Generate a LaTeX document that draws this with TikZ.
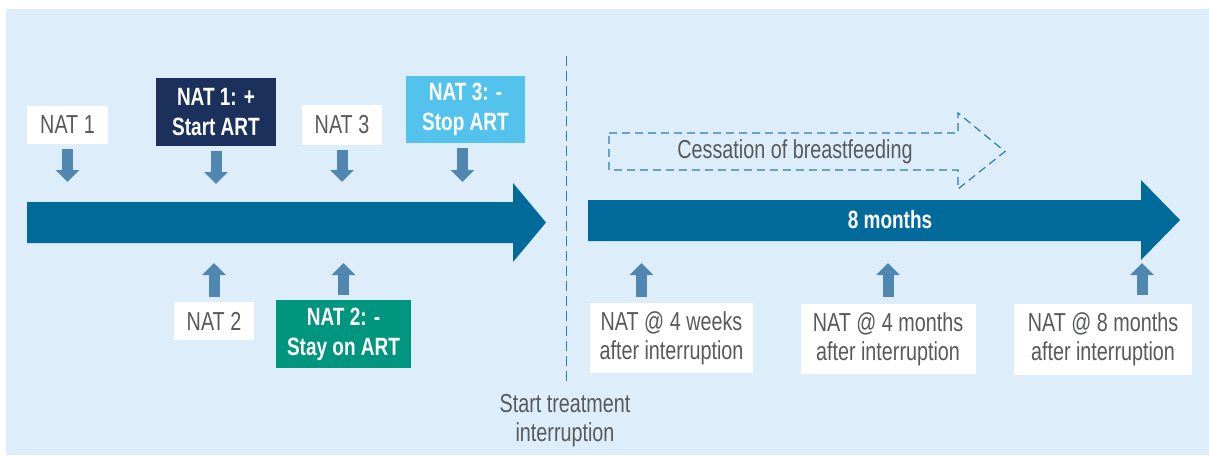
\documentclass[tikz,border=0pt]{standalone}
\usepackage{fontspec}
\setmainfont{Liberation Sans}[FakeStretch=0.76]
\usetikzlibrary{arrows.meta}
\definecolor{bgblue}{HTML}{DDEEFA}
\definecolor{mainblue}{HTML}{006A9A}
\definecolor{smallblue}{HTML}{4F87B1}
\definecolor{navy}{HTML}{1B305B}
\definecolor{skyblue}{HTML}{53C3ED}
\definecolor{teal}{HTML}{00957E}
\definecolor{txtgray}{HTML}{58595B}
\definecolor{dashblue}{HTML}{2B7BB5}
\tikzset{
  whitebox/.style={fill=white, text=txtgray, inner sep=0pt, align=center,
    font=\fontsize{26}{29}\selectfont},
  colbox/.style={fill=#1, text=white, inner sep=0pt, align=center,
    font=\fontsize{25}{30}\selectfont\bfseries},
  smallarr/.style={draw=smallblue, line width=11pt,
    -{Triangle[width=23pt,length=12pt]}},
  plaintext/.style={text=txtgray, align=center, font=\fontsize{26}{29}\selectfont},
}
\begin{document}
\begin{tikzpicture}[x=1pt,y=-1pt]
\useasboundingbox (0,0) rectangle (1209,456);
\fill[bgblue] (6,9) rectangle (1209,455);

% main arrows
\fill[mainblue] (27,202) -- (513,202) -- (513,183) -- (546,222.5) -- (513,262) -- (513,243) -- (27,243) -- cycle;
\fill[mainblue] (588,200) -- (1141,200) -- (1141,180) -- (1180,220) -- (1141,260) -- (1141,241) -- (588,241) -- cycle;
\node[text=white, font=\fontsize{25}{29}\selectfont\bfseries] (eight) at (890,220) {8 months};

% dashed separator
\coordinate (septop) at (566,56);
\coordinate (sepbot) at (566,383);
\draw[dashblue, line width=1pt, dash pattern=on 10pt off 5pt] (septop) -- (sepbot);
\node[plaintext] (sti) at (565,421) {Start treatment\\interruption};

% dashed outline arrow
\draw[dashblue, line width=1.2pt, dash pattern=on 8pt off 5pt]
  (609,133) -- (958,133) -- (958,113) -- (1005,151.5) -- (958,189) -- (958,170) -- (609,170) -- cycle;
\node[plaintext] (cess) at (795,152) {Cessation of breastfeeding};

% top boxes
\node[whitebox, minimum width=81pt, minimum height=38pt] (nat1) at (67.5,125) {NAT 1};
\node[colbox=navy, minimum width=120pt, minimum height=68pt] (nat1p) at (216,112) {NAT 1: +\\Start ART};
\node[whitebox, minimum width=80pt, minimum height=40pt] (nat3) at (342,125) {NAT 3};
\node[colbox=skyblue, minimum width=119pt, minimum height=67pt] (nat3m) at (465.5,109.5) {NAT 3: -\\Stop ART};

% bottom boxes
\node[whitebox, minimum width=80pt, minimum height=38pt] (nat2) at (214,321) {NAT 2};
\node[colbox=teal, minimum width=135pt, minimum height=68pt] (nat2m) at (343.5,334) {NAT 2: -\\Stay on ART};
\node[whitebox, minimum width=163pt, minimum height=70pt] (w4) at (671.5,338) {NAT @ 4 weeks\\after interruption};
\node[whitebox, minimum width=175pt, minimum height=70pt] (m4) at (888,339) {NAT @ 4 months\\after interruption};
\node[whitebox, minimum width=178pt, minimum height=71pt] (m8) at (1103,339.5) {NAT @ 8 months\\after interruption};

% small arrows down
\draw[smallarr] (nat1.south |- 0,149) -- (nat1.south |- 0,182);
\draw[smallarr] (nat1p.south |- 0,151) -- (nat1p.south |- 0,184);
\draw[smallarr] (nat3.south |- 0,150) -- (nat3.south |- 0,182);
\draw[smallarr] ([xshift=-3pt]nat3m.south |- 0,148) -- ([xshift=-3pt]nat3m.south |- 0,182);

% small arrows up
\draw[smallarr] (nat2.north |- 0,297) -- (nat2.north |- 0,263);
\draw[smallarr] (nat2m.north |- 0,295) -- (nat2m.north |- 0,263);
\draw[smallarr] ([xshift=-30pt]w4.north |- 0,297) -- ([xshift=-30pt]w4.north |- 0,263);
\draw[smallarr] (m4.north |- 0,297) -- (m4.north |- 0,263);
\draw[smallarr] ([xshift=39pt]m8.north |- 0,295) -- ([xshift=39pt]m8.north |- 0,263);
\end{tikzpicture}
\end{document}
